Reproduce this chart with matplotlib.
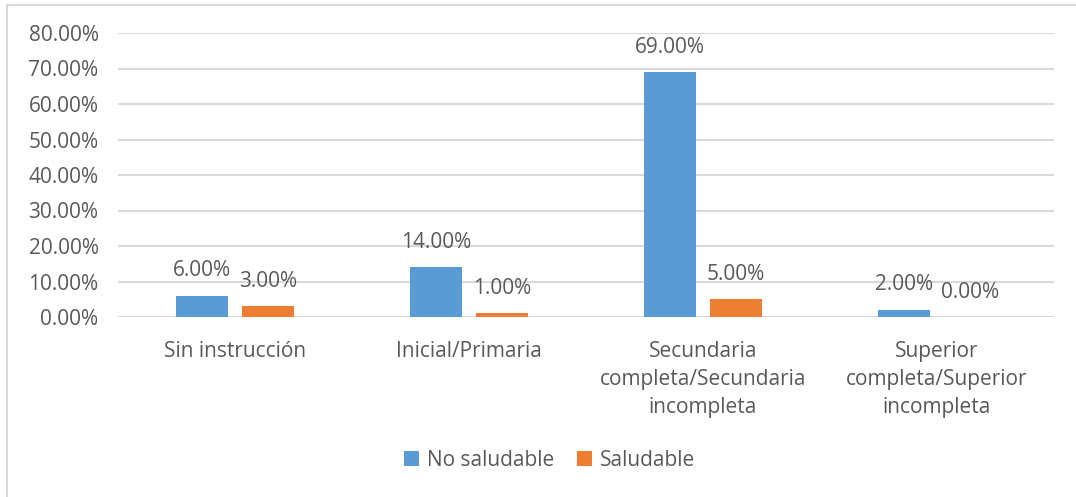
import numpy as np
import matplotlib.pyplot as plt
from matplotlib.patches import Rectangle

# data (fractions)
categories = ["Sin instrucción", "Inicial/Primaria",
              "Secundaria\ncompleta/Secundaria\nincompleta",
              "Superior\ncompleta/Superior\nincompleta"]
no_saludable = [0.06, 0.14, 0.69, 0.02]
saludable = [0.03, 0.01, 0.05, 0.00]
yticks = [0.0, 0.1, 0.2, 0.3, 0.4, 0.5, 0.6, 0.7, 0.8]

plt.rcParams['font.family'] = ['Open Sans', 'DejaVu Sans']
txt = '#595959'
grid = '#D9D9D9'
blue = '#5B9BD5'
orange = '#ED7D31'
fs = 15

fig = plt.figure(figsize=(10.76, 4.97), dpi=100)
ax = fig.add_axes([118 / 1076, 1 - 317 / 497, (1054 - 118) / 1076, (317 - 33) / 497])

x = np.arange(len(categories))
w = 0.222
off = 0.141
b1 = ax.bar(x - off, no_saludable, w, color=blue, label='No saludable', zorder=3)
b2 = ax.bar(x + off, saludable, w, color=orange, label='Saludable', zorder=3)

for bars, vals in ((b1, no_saludable), (b2, saludable)):
    for r, v in zip(bars, vals):
        ax.annotate(f"{v * 100:.2f}%", (r.get_x() + r.get_width() / 2, v),
                    xytext=(0, 18), textcoords='offset points',
                    ha='center', va='center', fontsize=fs, color=txt)

ax.set_xlim(-0.5, len(categories) - 0.5)
ax.set_ylim(0, 0.8)
ax.set_yticks(yticks)
ax.set_yticklabels([f"{t * 100:.2f}%" for t in yticks])
ax.set_xticks(x)
ax.set_xticklabels(categories, linespacing=1.45)
ax.tick_params(axis='both', length=0, colors=txt, labelsize=fs)
ax.tick_params(axis='y', pad=14)
ax.tick_params(axis='x', pad=17)
ax.yaxis.grid(True, color=grid, linewidth=1.5, zorder=0)
for s in ax.spines.values():
    s.set_visible(False)

leg = fig.legend(loc='center', bbox_to_anchor=(550 / 1076, 1 - 460 / 497), ncol=2,
                 frameon=False, fontsize=fs, handlelength=0.7, handleheight=0.7,
                 handletextpad=0.4, columnspacing=1.1)
for t in leg.get_texts():
    t.set_color(txt)

fig.patches.append(Rectangle((6.5 / 1076, -0.1), 2, 1.1 - 4.5 / 497,
                             transform=fig.transFigure, fill=False,
                             edgecolor=grid, linewidth=1.5))

fig.savefig('out.png', dpi=100)
